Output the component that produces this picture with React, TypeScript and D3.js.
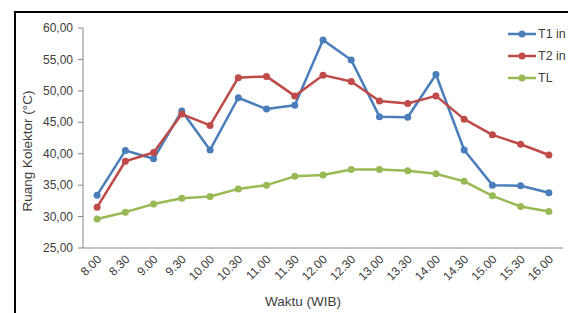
import React from 'react';
import * as d3 from 'd3';

const categories = ['8.00', '8.30', '9.00', '9.30', '10.00', '10.30', '11.00', '11.30', '12.00', '12.30', '13.00', '13.30', '14.00', '14.30', '15.00', '15.30', '16.00'];
const t1In = [33.4, 40.5, 39.2, 46.8, 40.6, 48.9, 47.1, 47.7, 58.1, 54.9, 45.9, 45.8, 52.6, 40.6, 35.0, 34.9, 33.8];
const t2In = [31.5, 38.8, 40.2, 46.3, 44.5, 52.1, 52.3, 49.2, 52.5, 51.5, 48.4, 48.0, 49.2, 45.5, 43.0, 41.5, 39.8];
const tL = [29.6, 30.7, 32.0, 32.9, 33.2, 34.4, 35.0, 36.4, 36.6, 37.5, 37.5, 37.3, 36.8, 35.6, 33.3, 31.6, 30.8];
const yTicks = [25, 30, 35, 40, 45, 50, 55, 60];

const series = [
  { name: 'T1 in', values: t1In, color: '#4a7ebb' },
  { name: 'T2 in', values: t2In, color: '#be4b48' },
  { name: 'TL', values: tL, color: '#98b954' },
];

const W = 568;
const H = 313;
const font = '"Liberation Sans", Arial, sans-serif';

const App: React.FC = () => {
  const x = d3.scaleBand<string>().domain(categories).range([83, 563]);
  const y = d3.scaleLinear().domain([25, 60]).range([248, 28]);
  const cx = (c: string) => x(c)! + x.bandwidth() / 2;

  const line = d3
    .line<number>()
    .x((_, i) => cx(categories[i]))
    .y(d => y(d));

  return (
    <svg width={W} height={H} style={{ position: 'absolute', left: 0, top: 0, background: '#fff' }} fontFamily={font}>
      {/* frame */}
      <path d={`M15,${H + 5} L15,12 L${W + 5},12`} fill="none" stroke="#000" strokeWidth={2} />

      {/* y axis */}
      <line x1={83} x2={83} y1={y(60)} y2={y(25)} stroke="#868686" strokeWidth={1} />
      {yTicks.map(t => (
        <g key={t}>
          <line x1={78} x2={83} y1={y(t)} y2={y(t)} stroke="#868686" />
          <text x={73} y={y(t)} dy="0.35em" textAnchor="end" fontSize={12} fill="#404040">
            {t.toFixed(2).replace('.', ',')}
          </text>
        </g>
      ))}
      <text transform="translate(32, 151) rotate(-90)" textAnchor="middle" fontSize={13.5} fill="#404040">
        Ruang Kolektor (°C)
      </text>

      {/* x axis */}
      <line x1={83} x2={563} y1={y(25)} y2={y(25)} stroke="#868686" strokeWidth={1} />
      {categories.map(c => (
        <text
          key={c}
          transform={`translate(${cx(c) + 5}, ${y(25) + 12}) rotate(-45)`}
          textAnchor="end"
          fontSize={12}
          fill="#404040"
        >
          {c}
        </text>
      ))}
      <text x={303} y={306} textAnchor="middle" fontSize={13.5} fill="#404040">
        Waktu (WIB)
      </text>

      {/* series */}
      {series.map(s => (
        <g key={s.name}>
          <path d={line(s.values)!} fill="none" stroke={s.color} strokeWidth={2.5} strokeLinejoin="round" />
          {s.values.map((v, i) => (
            <circle key={i} cx={cx(categories[i])} cy={y(v)} r={3.5} fill={s.color} />
          ))}
        </g>
      ))}

      {/* legend */}
      {series.map((s, i) => (
        <g key={s.name} transform={`translate(508, ${34 + i * 22})`}>
          <line x1={0} x2={28} y1={0} y2={0} stroke={s.color} strokeWidth={2.5} />
          <circle cx={14} cy={0} r={3.5} fill={s.color} />
          <text x={30} y={0} dy="0.35em" fontSize={12.5} fill="#404040">
            {s.name}
          </text>
        </g>
      ))}
    </svg>
  );
};

export default App;
